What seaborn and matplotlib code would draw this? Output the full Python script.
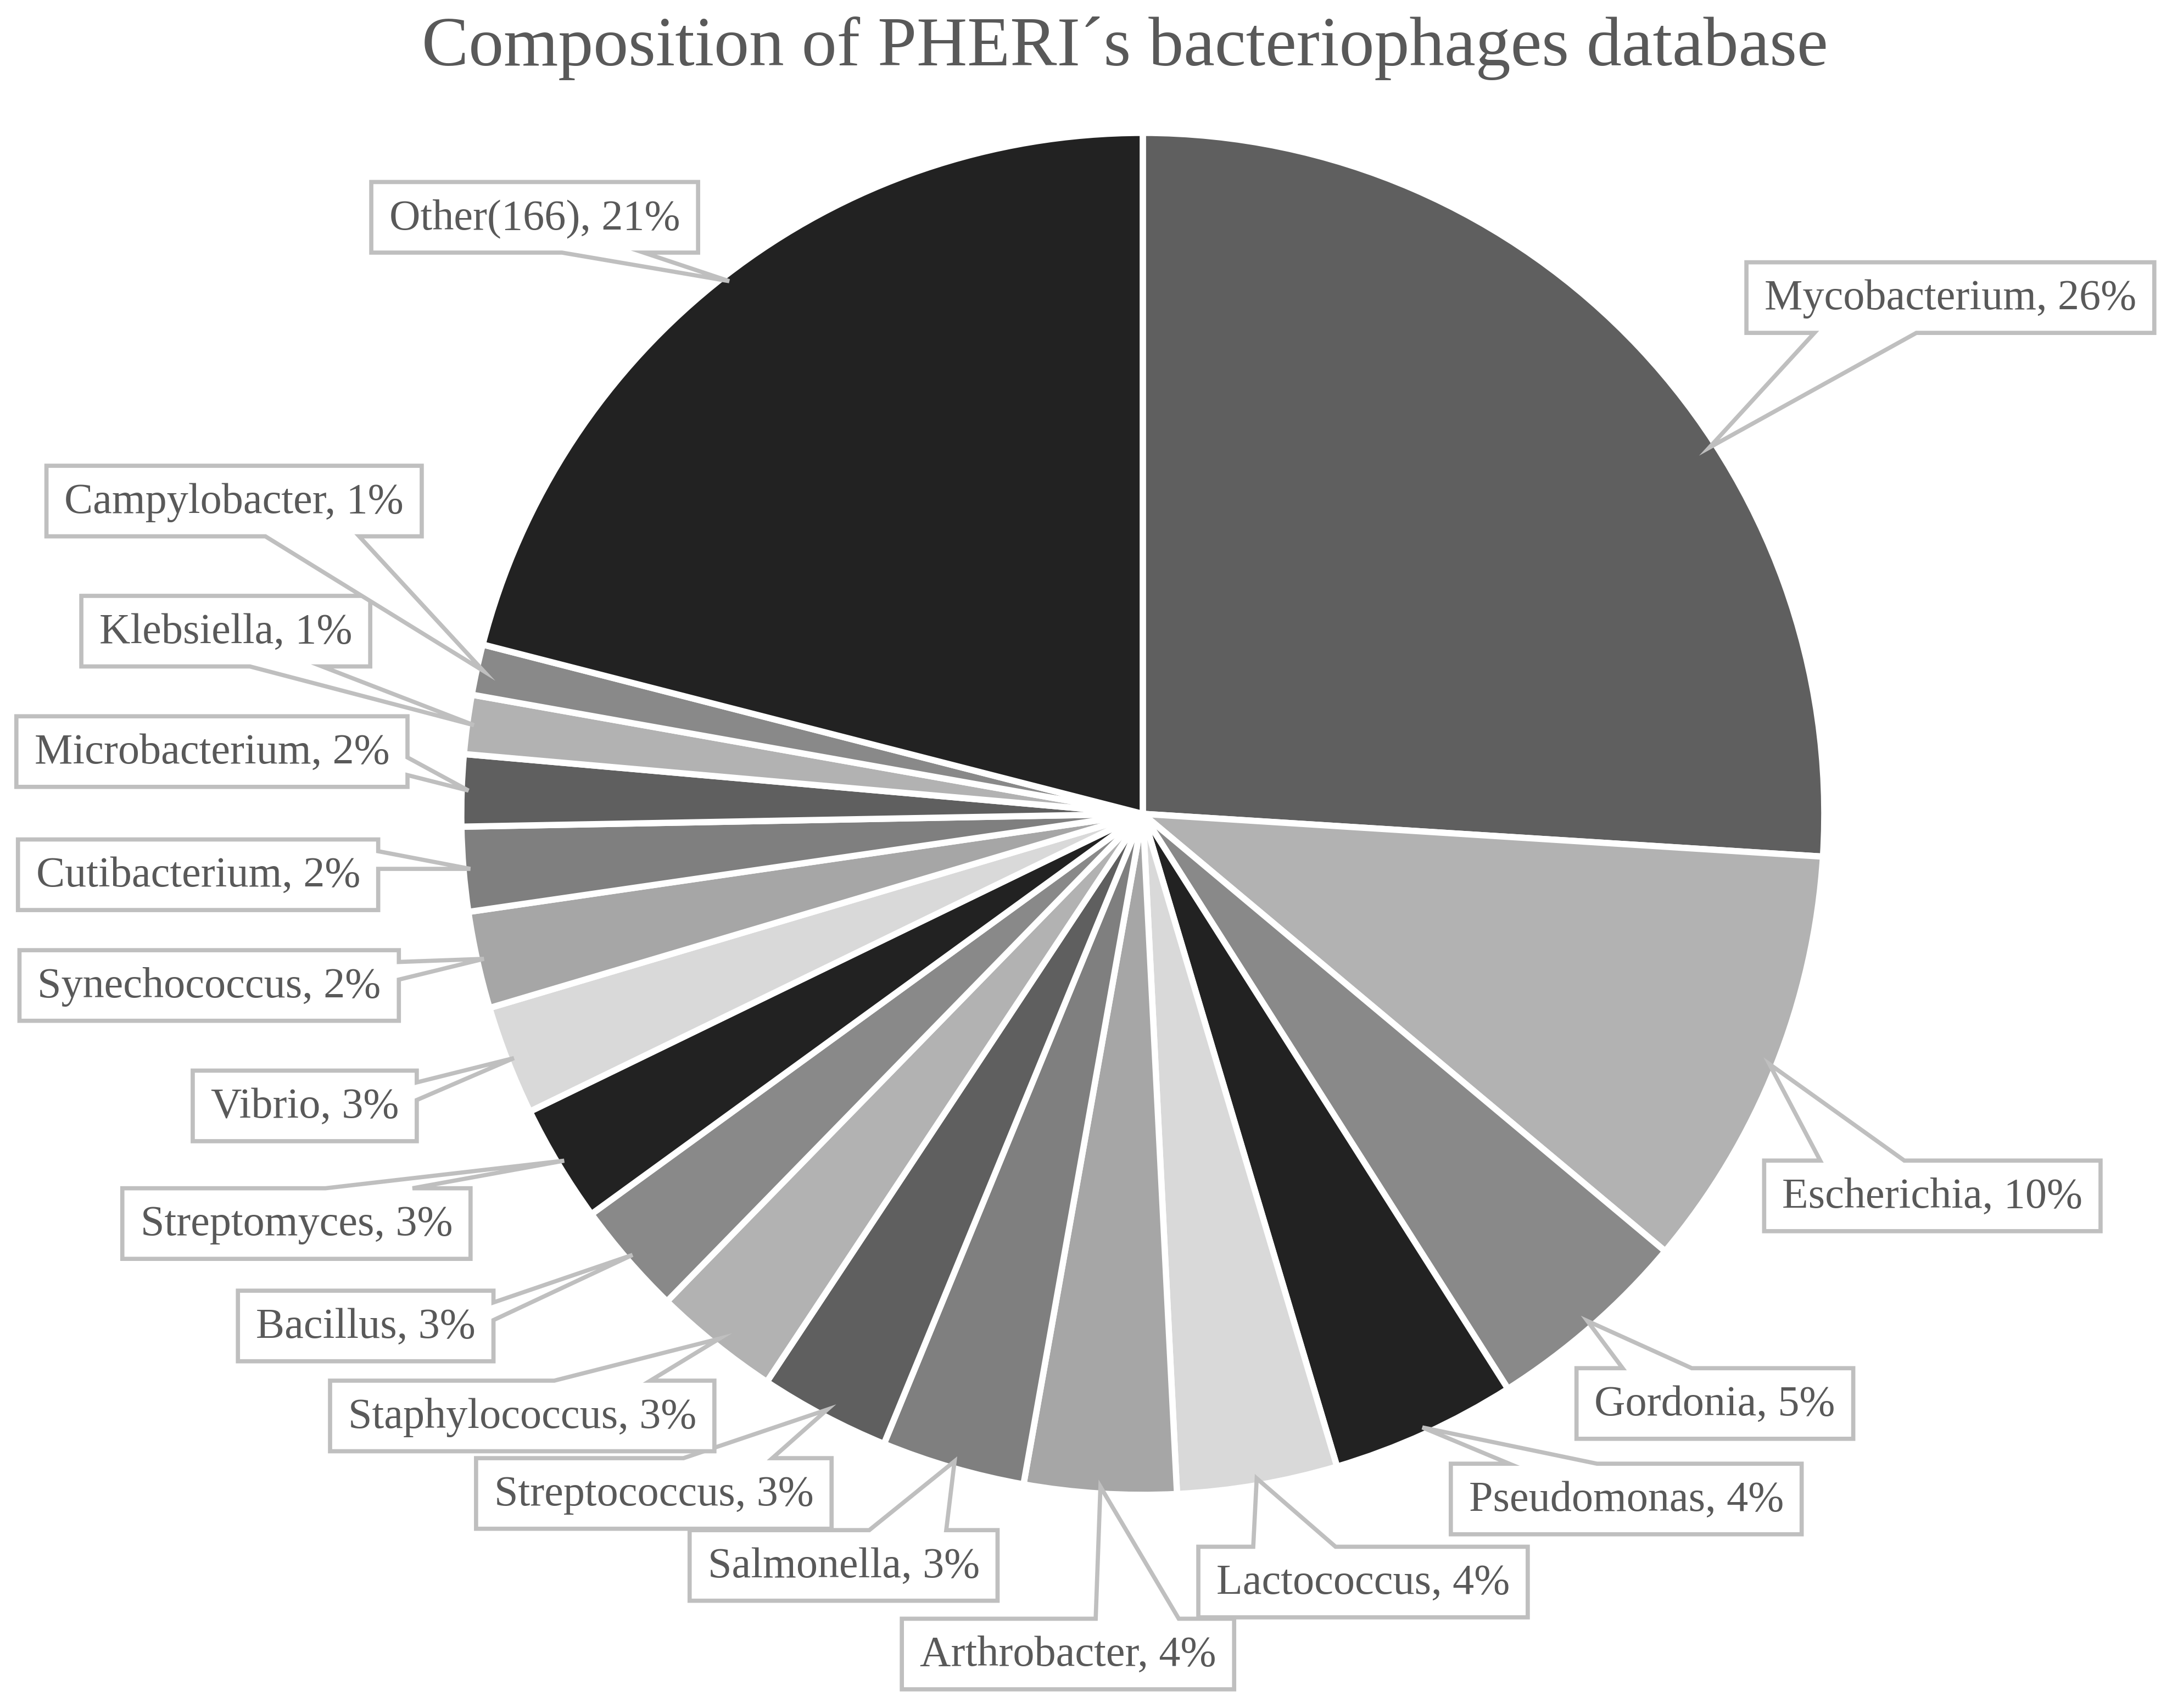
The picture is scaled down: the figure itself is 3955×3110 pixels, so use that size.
import matplotlib
matplotlib.use("Agg")
import matplotlib.pyplot as plt
from matplotlib.patches import Polygon
import numpy as np
import seaborn as sns

# data (percent of database)
genera = ["Mycobacterium", "Escherichia", "Gordonia", "Pseudomonas", "Lactococcus",
          "Arthrobacter", "Salmonella", "Streptococcus", "Staphylococcus", "Bacillus",
          "Streptomyces", "Vibrio", "Synechococcus", "Cutibacterium", "Microbacterium",
          "Klebsiella", "Campylobacter", "Other(166)"]
share = [26.0, 10.1, 4.9, 4.4, 3.8, 3.6, 3.4, 3.1, 3.0, 2.7,
         2.8, 2.6, 2.3, 2.0, 1.7, 1.4, 1.2, 21.0]
pct_text = [26, 10, 5, 4, 4, 4, 3, 3, 3, 3, 3, 3, 2, 2, 2, 1, 1, 21]

greys = ["#5f5f5f", "#b2b2b2", "#898989", "#222222", "#d9d9d9", "#a6a6a6", "#7f7f7f"]
colors = [greys[i % len(greys)] for i in range(len(genera))]

# layout, in reference pixel frame (x from left, y from top)
W, H = 1568, 1234
pie_cx, pie_cy, pie_r = 825, 588, 492
box_centers = [(1408, 215), (1395, 864), (1238, 1014), (1174, 1083), (984, 1143),
               (771, 1195), (609, 1131), (472, 1079), (377, 1023), (264, 958),
               (214, 884), (220, 799), (151, 712), (143, 632), (153, 543),
               (163, 456), (169, 362), (386, 157)]
tip_frac = [0.39] + [0.5] * 17   # where along the slice the callout points

sns.set_theme(style="white")
plt.rcParams["font.family"] = ["Liberation Serif", "DejaVu Serif"]
txt_col = "#595959"
edge_col = "#bfbfbf"

fig = plt.figure(figsize=(15.82, 12.44), dpi=250)
ax = fig.add_axes([0, 0, 1, 1])

wedges, _ = ax.pie(share, colors=colors, startangle=90, counterclock=False,
                   center=(pie_cx, H - pie_cy), radius=pie_r,
                   wedgeprops=dict(edgecolor="white", linewidth=3.3, joinstyle="round"))
ax.set_xlim(0, W)
ax.set_ylim(0, H)
ax.set_aspect("auto")
ax.axis("off")

fig.text(812 / W, 1 - 35 / H, "Composition of PHERI\u00b4s bacteriophages database",
         ha="center", va="center", fontsize=36.8, color=txt_col)

renderer = fig.canvas.get_renderer()
px_per_unit = fig.bbox.width / W


def callout(cx, cy, w, h, tx, ty):
    # rectangle with a wedge tail, like an office "rect callout"
    x0, x1 = cx - w / 2, cx + w / 2
    y0, y1 = cy - h / 2, cy + h / 2
    dx, dy = tx - cx, ty - cy
    top_left, top_right = (x0, y1), (x1, y1)
    bot_right, bot_left = (x1, y0), (x0, y0)
    if abs(dy) > abs(dx) * h / w:
        xa, xb = (x0 + w * 7 / 12, x0 + w * 10 / 12) if dx > 0 else (x0 + w * 2 / 12, x0 + w * 5 / 12)
        if dy < 0:
            pts = [top_left, top_right, bot_right, (xb, y0), (tx, ty), (xa, y0), bot_left]
        else:
            pts = [top_left, (xa, y1), (tx, ty), (xb, y1), top_right, bot_right, bot_left]
    else:
        ya, yb = (y1 - h * 7 / 12, y1 - h * 10 / 12) if dy < 0 else (y1 - h * 2 / 12, y1 - h * 5 / 12)
        if dx > 0:
            pts = [top_left, top_right, (x1, ya), (tx, ty), (x1, yb), bot_right, bot_left]
        else:
            pts = [top_left, top_right, bot_right, bot_left, (x0, yb), (tx, ty), (x0, ya)]
    return pts


for i, wdg in enumerate(wedges):
    label = f"{genera[i]}, {pct_text[i]}%"
    cx, cy = box_centers[i][0], H - box_centers[i][1]
    t = ax.text(cx, cy - 1, label, ha="center", va="center", fontsize=22.5,
                color=txt_col, zorder=5)
    tw = t.get_window_extent(renderer).width / px_per_unit
    bw, bh = tw + 26, 51
    ang = np.deg2rad(wdg.theta1 + tip_frac[i] * (wdg.theta2 - wdg.theta1))
    tx = pie_cx + 0.99 * pie_r * np.cos(ang)
    ty = (H - pie_cy) + 0.99 * pie_r * np.sin(ang)
    poly = Polygon(callout(cx, cy, bw, bh, tx, ty), closed=True, facecolor="white",
                   edgecolor=edge_col, linewidth=2.2, joinstyle="miter", zorder=4)
    ax.add_patch(poly)

fig.savefig("out.png", dpi=250, facecolor="white")
